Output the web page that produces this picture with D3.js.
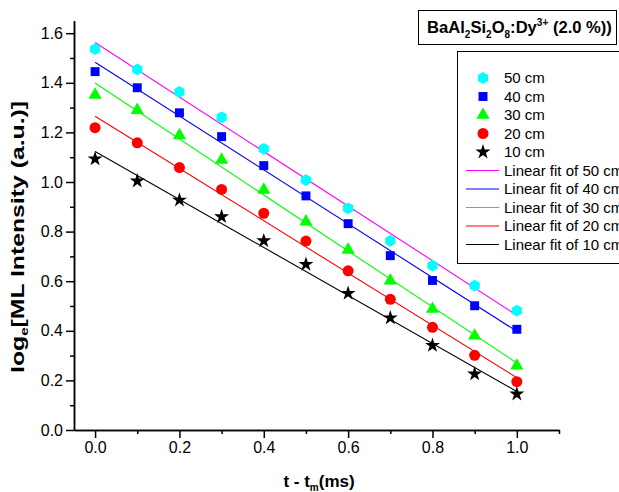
<!DOCTYPE html>
<html>
<head>
<meta charset="utf-8">
<script src="https://cdn.jsdelivr.net/npm/d3@7"></script>
<style>
  body { margin: 0; background: #fff; }
  svg { font-family: "Liberation Sans", Arial, sans-serif; }
  .axis path, .axis line { stroke: #000; stroke-width: 1.5; }
  .axis text { font-size: 16px; fill: #000; }
</style>
</head>
<body>
<script>
var w = 619;
var h = 492;

// measured data (t - tm in ms, loge intensity)
var times = [0.0, 0.1, 0.2, 0.3, 0.4, 0.5, 0.6, 0.7, 0.8, 0.9, 1.0];
var cm50 = [1.536, 1.454, 1.363, 1.261, 1.134, 1.008, 0.894, 0.763, 0.663, 0.582, 0.481];
var cm40 = [1.445, 1.380, 1.279, 1.183, 1.066, 0.944, 0.832, 0.703, 0.603, 0.501, 0.406];
var cm30 = [1.351, 1.290, 1.188, 1.089, 0.968, 0.840, 0.726, 0.602, 0.488, 0.380, 0.259];
var cm20 = [1.219, 1.158, 1.058, 0.970, 0.874, 0.762, 0.642, 0.527, 0.414, 0.301, 0.195];
var cm10 = [1.093, 1.004, 0.927, 0.860, 0.763, 0.668, 0.551, 0.452, 0.341, 0.226, 0.145];

var seriesNames = ["50 cm", "40 cm", "30 cm", "20 cm", "10 cm"];
var seriesValues = [cm50, cm40, cm30, cm20, cm10];
var markerColors = ["#00ffff", "#0000ff", "#00ff00", "#ff0000", "#000000"];
var fitColors = ["#ff00ff", "#0000ff", "#00ff00", "#ff0000", "#000000"];

var xTicks = [0, 0.2, 0.4, 0.6, 0.8, 1.0];
var xMinor = [0.1, 0.3, 0.5, 0.7, 0.9, 1.1];
var yTicks = [0, 0.2, 0.4, 0.6, 0.8, 1.0, 1.2, 1.4, 1.6];
var yMinor = [0.1, 0.3, 0.5, 0.7, 0.9, 1.1, 1.3, 1.5];

// hexagon marker (not in d3 symbols)
var symbolHexagon = {
    draw: function (ctx, size) {
        var r = Math.sqrt(size * 2 / (3 * Math.sqrt(3)));
        for (var i = 0; i < 6; i++) {
            var a = Math.PI / 6 + i * Math.PI / 3;
            if (i == 0) ctx.moveTo(r * Math.cos(a), r * Math.sin(a));
            else ctx.lineTo(r * Math.cos(a), r * Math.sin(a));
        }
        ctx.closePath();
    }
};
var shapes = [
    d3.symbol().type(symbolHexagon).size(90),
    d3.symbol().type(d3.symbolSquare).size(80),
    d3.symbol().type(d3.symbolTriangle).size(75),
    d3.symbol().type(d3.symbolCircle).size(95),
    d3.symbol().type(d3.symbolStar).size(70)
];

var svg = d3.select("body")
    .append("svg")
    .attr("width", w)
    .attr("height", h);

var x = d3.scaleLinear().domain([-0.05, 1.1]).range([74, 559]);
var y = d3.scaleLinear().domain([0, 1.65]).range([430, 430 - 1.65 * 248]);

// least squares fit
function linFit(xs, ys) {
    var mx = d3.mean(xs), my = d3.mean(ys);
    var sxy = d3.sum(xs, (v, i) => (v - mx) * (ys[i] - my));
    var sxx = d3.sum(xs, v => (v - mx) * (v - mx));
    var b = sxy / sxx;
    return { a: my - b * mx, b: b };
}

// fit lines
seriesValues.forEach(function (vals, i) {
    var f = linFit(times, vals);
    var x0 = d3.min(times), x1 = d3.max(times);
    svg.append("line")
        .attr("x1", x(x0)).attr("y1", y(f.a + f.b * x0))
        .attr("x2", x(x1)).attr("y2", y(f.a + f.b * x1))
        .attr("stroke", fitColors[i])
        .attr("stroke-width", 1.1);
});

// markers
seriesValues.forEach(function (vals, i) {
    svg.append("g")
        .selectAll("path")
        .data(vals)
        .enter()
        .append("path")
        .attr("d", shapes[i])
        .attr("transform", (d, j) => "translate(" + x(times[j]) + "," + y(d) + ")")
        .attr("fill", markerColors[i]);
});

// axes
svg.append("g")
    .attr("class", "axis")
    .attr("transform", "translate(0,430)")
    .call(d3.axisBottom(x).tickValues(xTicks).tickSize(8).tickSizeOuter(0).tickPadding(4).tickFormat(d3.format(".1f")));
svg.append("g")
    .attr("class", "axis")
    .attr("transform", "translate(0,430)")
    .call(d3.axisBottom(x).tickValues(xMinor).tickSize(4).tickSizeOuter(0).tickFormat(""));
svg.append("g")
    .attr("class", "axis")
    .attr("transform", "translate(74,0)")
    .call(d3.axisLeft(y).tickValues(yTicks).tickSize(8).tickSizeOuter(0).tickPadding(3).tickFormat(d3.format(".1f")));
svg.append("g")
    .attr("class", "axis")
    .attr("transform", "translate(74,0)")
    .call(d3.axisLeft(y).tickValues(yMinor).tickSize(4).tickSizeOuter(0).tickFormat(""));

// axis titles
var xl = svg.append("text")
    .attr("x", 319).attr("y", 487)
    .attr("text-anchor", "middle")
    .attr("font-size", 17).attr("font-weight", "bold");
xl.append("tspan").text("t - t");
xl.append("tspan").text("m").attr("font-size", 10).attr("dy", 4);
xl.append("tspan").text("(ms)").attr("dy", -4);

var yl = svg.append("text")
    .attr("transform", "translate(24,237) rotate(-90)")
    .attr("text-anchor", "middle")
    .attr("font-size", 18).attr("font-weight", "bold")
    .attr("textLength", 272).attr("lengthAdjust", "spacingAndGlyphs");
yl.append("tspan").text("log");
yl.append("tspan").text("e").attr("font-size", 11).attr("dy", 4);
yl.append("tspan").text("[ML Intensity (a.u.)]").attr("dy", -4);

// title box
svg.append("rect")
    .attr("x", 418.5).attr("y", 10.5)
    .attr("width", 198).attr("height", 34)
    .attr("fill", "none").attr("stroke", "#000").attr("stroke-width", 1);
var tt = svg.append("text")
    .attr("x", 427).attr("y", 33)
    .attr("font-size", 16.6).attr("font-weight", "bold");
tt.append("tspan").text("BaAl");
tt.append("tspan").text("2").attr("font-size", 10).attr("dy", 5);
tt.append("tspan").text("Si").attr("dy", -5);
tt.append("tspan").text("2").attr("font-size", 10).attr("dy", 5);
tt.append("tspan").text("O").attr("dy", -5);
tt.append("tspan").text("8").attr("font-size", 10).attr("dy", 5);
tt.append("tspan").text(":Dy").attr("dy", -5);
tt.append("tspan").text("3+").attr("font-size", 10).attr("dy", -7);
tt.append("tspan").text(" (2.0 %))").attr("dy", 7);

// legend
svg.append("rect")
    .attr("x", 457.5).attr("y", 51.5)
    .attr("width", 200).attr("height", 212)
    .attr("fill", "#fff").attr("stroke", "#000").attr("stroke-width", 1);
var legendY = 78;
var step = 18.5;
seriesNames.forEach(function (name, i) {
    var yy = legendY + i * step;
    svg.append("path")
        .attr("d", shapes[i])
        .attr("transform", "translate(483," + yy + ")")
        .attr("fill", markerColors[i]);
    svg.append("text")
        .attr("x", 504).attr("y", yy + 5)
        .attr("font-size", 15)
        .text(name);
});
seriesNames.forEach(function (name, i) {
    var yy = legendY + (i + 5) * step;
    svg.append("line")
        .attr("x1", 466).attr("x2", 499)
        .attr("y1", yy).attr("y2", yy)
        .attr("stroke", fitColors[i])
        .attr("stroke-width", 1.1);
    svg.append("text")
        .attr("x", 504).attr("y", yy + 5)
        .attr("font-size", 15)
        .text("Linear fit of " + name);
});
</script>
</body>
</html>
